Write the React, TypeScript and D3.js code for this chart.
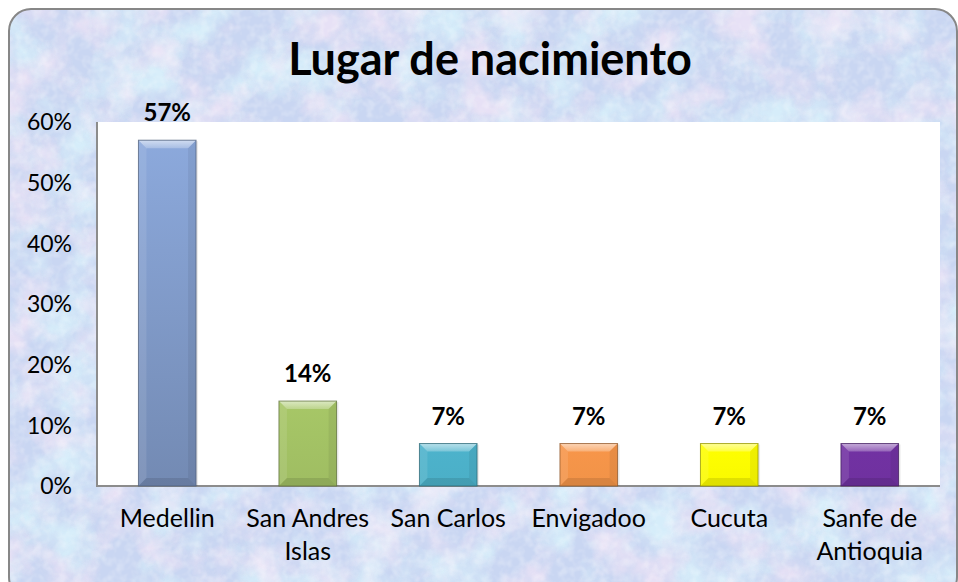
import React from "react";
import * as d3 from "d3";

const categories: string[][] = [
  ["Medellin"],
  ["San Andres", "Islas"],
  ["San Carlos"],
  ["Envigadoo"],
  ["Cucuta"],
  ["Sanfe de", "Antioquia"],
];
const values: number[] = [0.57, 0.14, 0.07, 0.07, 0.07, 0.07];
const barColors: string[] = ["#8aa6d8", "#a6c667", "#4db3cc", "#f7964a", "#ffff00", "#7232a3"];
const yTicks: number[] = [0, 0.1, 0.2, 0.3, 0.4, 0.5, 0.6];
const title = "Lugar de nacimiento";

const W = 958;
const H = 582;
const plot = { left: 97, right: 940, top: 122, bottom: 486 };
const FONT = "Lato, 'Open Sans', sans-serif";

export default function App() {
  const x = d3
    .scaleBand<number>()
    .domain(values.map((_, i) => i))
    .range([plot.left, plot.right])
    .paddingInner(0.59)
    .paddingOuter(0.295);
  const y = d3.scaleLinear().domain([0, 0.6]).range([plot.bottom, plot.top]);
  const fmt = d3.format(".0%");
  const bw = x.bandwidth();
  const bev = 8;
  const plotH = plot.bottom - plot.top;

  return (
    <svg
      width={W}
      height={H}
      style={{ position: "absolute", left: 0, top: 0, display: "block" }}
      fontFamily={FONT}
    >
      <defs>
        <clipPath id="outer">
          <rect x={9} y={9} width={948} height={590} rx={22} ry={22} />
        </clipPath>
        <filter id="pink" x="0" y="0" width="100%" height="100%">
          <feTurbulence type="fractalNoise" baseFrequency="0.022" numOctaves={4} seed={7} />
          <feColorMatrix
            type="matrix"
            values="0 0 0 0 0.94  0 0 0 0 0.8  0 0 0 0 0.93  3 0 0 0 -1.35"
          />
        </filter>
        <filter id="cyan" x="0" y="0" width="100%" height="100%">
          <feTurbulence type="fractalNoise" baseFrequency="0.02" numOctaves={4} seed={19} />
          <feColorMatrix
            type="matrix"
            values="0 0 0 0 0.7  0 0 0 0 0.9  0 0 0 0 0.97  0 3 0 0 -1.3"
          />
        </filter>
        <filter id="speck" x="0" y="0" width="100%" height="100%">
          <feTurbulence type="fractalNoise" baseFrequency="0.12" numOctaves={2} seed={3} />
          <feColorMatrix type="matrix" values="0 0 0 0 1  0 0 0 0 1  0 0 0 0 1  0 0 2.5 0 -1.0" />
        </filter>
        {values.map((v, i) => {
          const c = d3.color(barColors[i])!;
          const h = plot.bottom - y(v);
          const k = h / plotH;
          return (
            <linearGradient key={i} id={`g${i}`} x1="0" y1="0" x2="0" y2="1">
              <stop offset="0" stopColor={c.brighter(0.05 * k).formatHex()} />
              <stop offset="1" stopColor={c.darker(0.55 * k).formatHex()} />
            </linearGradient>
          );
        })}
        <linearGradient id="topBev" x1="0" y1="0" x2="0" y2="1">
          <stop offset="0" stopColor="#fff" stopOpacity={0.6} />
          <stop offset="1" stopColor="#fff" stopOpacity={0.25} />
        </linearGradient>
      </defs>

      <g clipPath="url(#outer)">
        <rect x={0} y={0} width={W} height={H} fill="#c9d6f2" />
        <rect x={0} y={0} width={W} height={H} filter="url(#cyan)" opacity={0.8} />
        <rect x={0} y={0} width={W} height={H} filter="url(#pink)" opacity={0.65} />
        <rect x={0} y={0} width={W} height={H} filter="url(#speck)" opacity={0.25} />
      </g>
      <rect x={9} y={9} width={948} height={590} rx={22} ry={22} fill="none" stroke="#878787" strokeWidth={2} />

      <text x={490} y={75} textAnchor="middle" fontSize={45} fontWeight="bold" fill="#000">
        {title}
      </text>

      <rect x={plot.left} y={plot.top} width={plot.right - plot.left} height={plotH} fill="#ffffff" />
      <line x1={plot.left} y1={plot.top} x2={plot.left} y2={plot.bottom + 1} stroke="#8c8c8c" strokeWidth={2} />
      <line x1={plot.left} y1={plot.bottom} x2={plot.right} y2={plot.bottom} stroke="#8c8c8c" strokeWidth={2} />

      {yTicks.map((t) => (
        <text key={t} x={72} y={y(t)} dy="0.36em" textAnchor="end" fontSize={23} fill="#000">
          {fmt(t)}
        </text>
      ))}

      {values.map((v, i) => {
        const x0 = x(i)!;
        const y0 = y(v);
        const h = plot.bottom - y0;
        const base = d3.color(barColors[i])!;
        const edge = base.darker(1.6).formatHex();
        const b = Math.min(bev, h / 3);
        return (
          <g key={i}>
            <rect x={x0 + 2} y={y0 + 1} width={bw} height={h - 1} fill="#000" opacity={0.08} />
            <rect x={x0} y={y0} width={bw} height={h} fill={`url(#g${i})`} />
            <path
              d={`M${x0},${y0}L${x0 + bw},${y0}L${x0 + bw - b},${y0 + b}L${x0 + b},${y0 + b}Z`}
              fill="url(#topBev)"
            />
            <path
              d={`M${x0},${y0}L${x0 + b},${y0 + b}L${x0 + b},${y0 + h - b}L${x0},${y0 + h}Z`}
              fill="#fff"
              opacity={0.1}
            />
            <path
              d={`M${x0 + bw},${y0}L${x0 + bw - b},${y0 + b}L${x0 + bw - b},${y0 + h - b}L${x0 + bw},${y0 + h}Z`}
              fill="#000"
              opacity={0.06}
            />
            <path
              d={`M${x0},${y0 + h}L${x0 + b},${y0 + h - b}L${x0 + bw - b},${y0 + h - b}L${x0 + bw},${y0 + h}Z`}
              fill="#000"
              opacity={0.1}
            />
            <rect x={x0} y={y0} width={bw} height={h} fill="none" stroke={edge} strokeWidth={1} opacity={0.75} />
            <text x={x0 + bw / 2} y={y0 - 19} textAnchor="middle" fontSize={24} fontWeight="bold" fill="#000">
              {fmt(v)}
            </text>
          </g>
        );
      })}

      {categories.map((lines, i) => (
        <text key={i} textAnchor="middle" fontSize={25} fill="#000">
          {lines.map((ln, j) => (
            <tspan key={j} x={x(i)! + bw / 2} y={527 + j * 33}>
              {ln}
            </tspan>
          ))}
        </text>
      ))}
    </svg>
  );
}
